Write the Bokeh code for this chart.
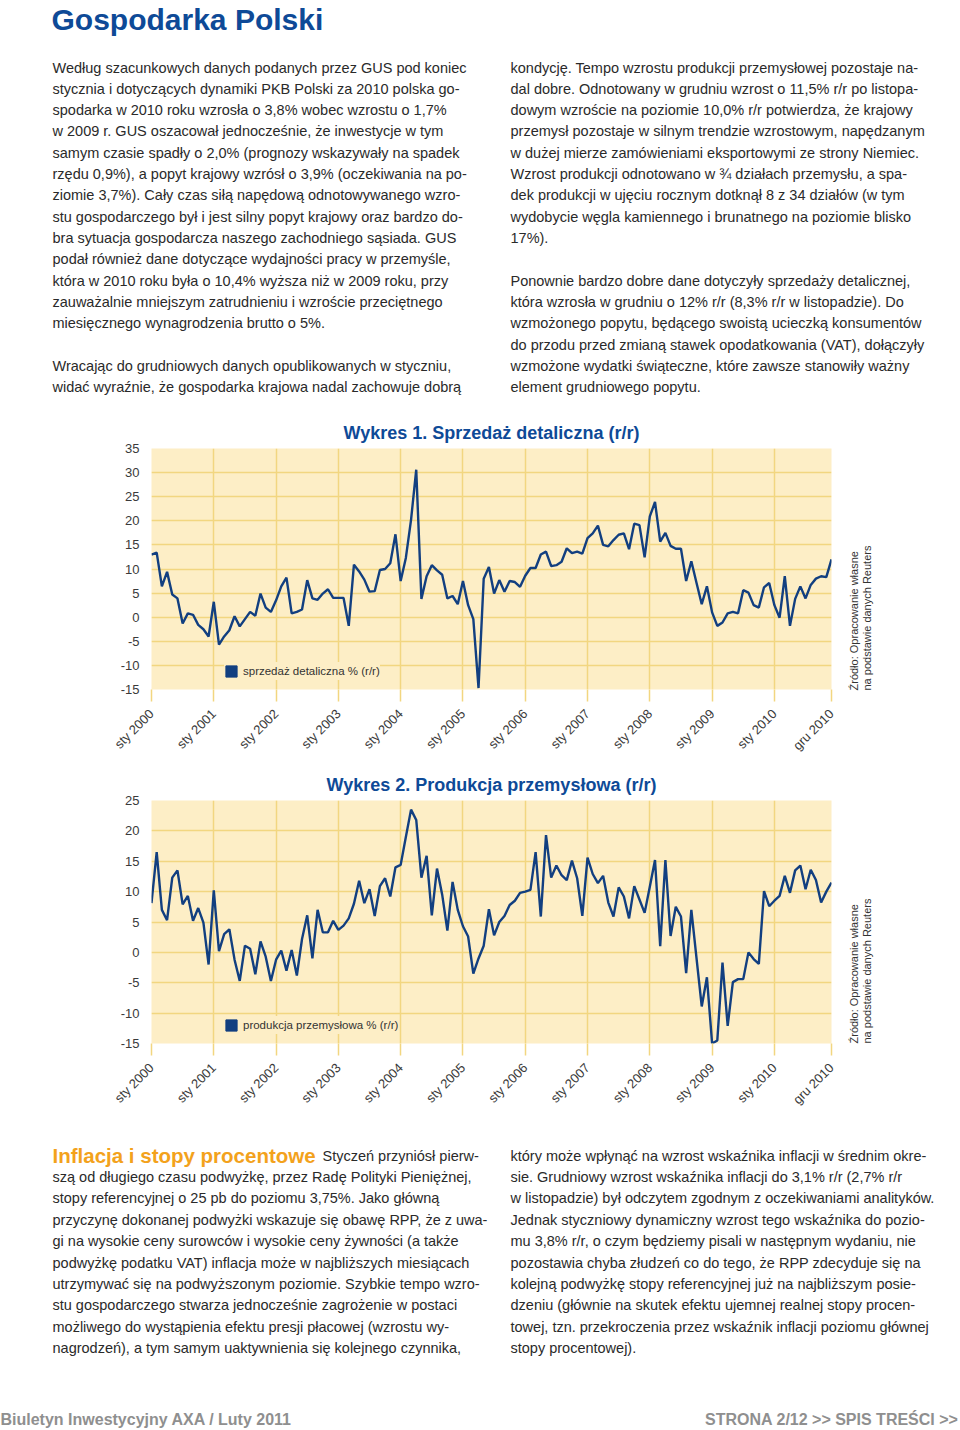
import math
from bokeh.plotting import figure
from bokeh.models import Range1d, FixedTicker, Legend, LegendItem
from bokeh.layouts import column, row
from bokeh.core.properties import value
from bokeh.embed import file_html
from bokeh.resources import INLINE

# ---------------- data ----------------
tick_labels = ["sty 2000", "sty 2001", "sty 2002", "sty 2003", "sty 2004", "sty 2005",
               "sty 2006", "sty 2007", "sty 2008", "sty 2009", "sty 2010", "gru 2010"]

# Wykres 1: sprzedaż detaliczna % r/r, sty 2000 - gru 2010 (monthly)
retail = [
    13.0, 13.4, 6.4, 9.4, 4.7, 3.9, -1.3, 0.8, 0.5, -1.6, -2.5, -4.0,
    3.2, -5.7, -4.0, -2.7, 0.2, -1.9, -0.4, 1.1, 0.3, 4.9, 2.0, 1.1,
    3.5, 6.4, 8.2, 0.8, 1.1, 1.6, 7.7, 3.9, 3.6, 4.9, 5.8, 4.0,
    4.0, 4.0, -1.8, 10.9, 9.5, 7.8, 5.3, 5.4, 9.8, 10.0, 11.2, 17.2,
    7.5, 12.3, 20.2, 30.6, 3.8, 8.5, 10.8, 9.7, 8.8, 3.9, 4.4, 2.7,
    7.5, 2.5, -0.4, -14.7, 8.0, 10.4, 4.9, 7.7, 5.3, 7.5, 7.3, 6.3,
    8.6, 10.2, 10.2, 13.0, 13.6, 10.6, 10.8, 11.5, 14.3, 13.3, 13.6, 13.2,
    16.4, 17.4, 19.0, 15.0, 14.7, 16.0, 17.1, 17.4, 14.1, 19.4, 19.1, 12.4,
    20.9, 23.9, 15.7, 17.5, 14.8, 14.2, 14.2, 7.5, 11.6, 7.1, 2.7, 6.4,
    1.0, -1.8, -1.1, 0.8, 1.1, 0.8, 5.6, 5.1, 2.5, 2.0, 6.2, 7.1,
    2.5, -0.1, 8.5, -1.8, 3.8, 6.4, 3.9, 6.7, 8.0, 8.5, 8.3, 12.0,
]

# Wykres 2: produkcja przemysłowa % r/r, sty 2000 - gru 2010 (monthly)
production = [
    8.1, 16.5, 7.0, 5.3, 12.3, 13.5, 7.9, 9.3, 5.2, 7.3, 4.9, -2.0,
    10.2, 0.2, 3.0, 3.8, -1.2, -4.7, 1.1, 0.6, -3.6, 1.8, -0.7, -4.7,
    -1.2, 0.3, -3.0, 0.4, -3.8, 2.2, 6.1, -1.0, 7.0, 3.3, 3.3, 5.2,
    3.7, 4.4, 5.6, 8.0, 11.8, 8.1, 10.4, 6.0, 10.9, 12.2, 9.2, 14.0,
    14.4, 19.0, 23.5, 21.8, 12.3, 15.9, 6.1, 13.8, 9.5, 3.6, 11.6, 7.0,
    4.3, 2.6, -3.5, -1.0, 1.1, 7.1, 2.8, 5.0, 6.0, 7.8, 8.5, 9.8,
    10.0, 10.3, 16.5, 5.9, 19.3, 12.3, 14.3, 12.7, 11.9, 15.1, 12.2, 6.0,
    15.6, 12.9, 11.4, 12.6, 8.2, 5.9, 10.7, 9.2, 5.6, 10.9, 8.7, 6.5,
    10.8, 15.2, 1.0, 15.2, 2.7, 7.5, 5.9, -3.4, 7.0, -1.0, -8.9, -4.1,
    -15.0, -14.5, -1.7, -12.1, -4.9, -4.4, -4.4, 0.0, -1.1, -1.9, 10.1, 7.6,
    8.5, 9.3, 12.6, 9.8, 13.5, 14.3, 10.4, 13.6, 11.9, 8.2, 10.0, 11.5,
]

# ---------------- texts ----------------
page_title = "Gospodarka Polski"
top_left = [
    "Według szacunkowych danych podanych przez GUS pod koniec",
    "stycznia i dotyczących dynamiki PKB Polski za 2010 polska go-",
    "spodarka w 2010 roku wzrosła o 3,8% wobec wzrostu o 1,7%",
    "w 2009 r. GUS oszacował jednocześnie, że inwestycje w tym",
    "samym czasie spadły o 2,0% (prognozy wskazywały na spadek",
    "rzędu 0,9%), a popyt krajowy wzrósł o 3,9% (oczekiwania na po-",
    "ziomie 3,7%). Cały czas siłą napędową odnotowywanego wzro-",
    "stu gospodarczego był i jest silny popyt krajowy oraz bardzo do-",
    "bra sytuacja gospodarcza naszego zachodniego sąsiada. GUS",
    "podał również dane dotyczące wydajności pracy w przemyśle,",
    "która w 2010 roku była o 10,4% wyższa niż w 2009 roku, przy",
    "zauważalnie mniejszym zatrudnieniu i wzroście przeciętnego",
    "miesięcznego wynagrodzenia brutto o 5%.",
    "",
    "Wracając do grudniowych danych opublikowanych w styczniu,",
    "widać wyraźnie, że gospodarka krajowa nadal zachowuje dobrą",
]
top_right = [
    "kondycję. Tempo wzrostu produkcji przemysłowej pozostaje na-",
    "dal dobre. Odnotowany w grudniu wzrost o 11,5% r/r po listopa-",
    "dowym wzroście na poziomie 10,0% r/r potwierdza, że krajowy",
    "przemysł pozostaje w silnym trendzie wzrostowym, napędzanym",
    "w dużej mierze zamówieniami eksportowymi ze strony Niemiec.",
    "Wzrost produkcji odnotowano w ¾ działach przemysłu, a spa-",
    "dek produkcji w ujęciu rocznym dotknął 8 z 34 działów (w tym",
    "wydobycie węgla kamiennego i brunatnego na poziomie blisko",
    "17%).",
    "",
    "Ponownie bardzo dobre dane dotyczyły sprzedaży detalicznej,",
    "która wzrosła w grudniu o 12% r/r (8,3% r/r w listopadzie). Do",
    "wzmożonego popytu, będącego swoistą ucieczką konsumentów",
    "do przodu przed zmianą stawek opodatkowania (VAT), dołączyły",
    "wzmożone wydatki świąteczne, które zawsze stanowiły ważny",
    "element grudniowego popytu.",
]
bottom_head = "Inflacja i stopy procentowe"
bottom_left = [
    "Styczeń przyniósł pierw-",
    "szą od długiego czasu podwyżkę, przez Radę Polityki Pieniężnej,",
    "stopy referencyjnej o 25 pb do poziomu 3,75%. Jako główną",
    "przyczynę dokonanej podwyżki wskazuje się obawę RPP, że z uwa-",
    "gi na wysokie ceny surowców i wysokie ceny żywności (a także",
    "podwyżkę podatku VAT) inflacja może w najbliższych miesiącach",
    "utrzymywać się na podwyższonym poziomie. Szybkie tempo wzro-",
    "stu gospodarczego stwarza jednocześnie zagrożenie w postaci",
    "możliwego do wystąpienia efektu presji płacowej (wzrostu wy-",
    "nagrodzeń), a tym samym uaktywnienia się kolejnego czynnika,",
]
bottom_right = [
    "który może wpłynąć na wzrost wskaźnika inflacji w średnim okre-",
    "sie. Grudniowy wzrost wskaźnika inflacji do 3,1% r/r (2,7% r/r",
    "w listopadzie) był odczytem zgodnym z oczekiwaniami analityków.",
    "Jednak styczniowy dynamiczny wzrost tego wskaźnika do pozio-",
    "mu 3,8% r/r, o czym będziemy pisali w następnym wydaniu, nie",
    "pozostawia chyba złudzeń co do tego, że RPP zdecyduje się na",
    "kolejną podwyżkę stopy referencyjnej już na najbliższym posie-",
    "dzeniu (głównie na skutek efektu ujemnej realnej stopy procen-",
    "towej, tzn. przekroczenia przez wskaźnik inflacji poziomu głównej",
    "stopy procentowej).",
]
footer_left = "Biuletyn Inwestycyjny AXA / Luty 2011"
footer_right = "STRONA 2/12 >> SPIS TREŚCI >>"
source_lines = ["Źródło: Opracowanie własne", "na podstawie danych Reuters"]

# ---------------- styles ----------------
PW = 960
FONT = "Liberation Sans"
TEXT_C = "#2a2a2a"
BLUE_T = "#0e4a97"
LINE_C = "#123f80"
BG_C = "#fdeec6"
GRID_C = "#f2d680"
ORANGE = "#f3a21c"
GRAY = "#8f8f8f"
BODY_SIZE = "14.5px"


def blank(width, height, xr, yr):
    f = figure(width=width, height=height, x_range=xr, y_range=yr,
               output_backend="svg", toolbar_location=None, min_border=0,
               x_axis_location=None, y_axis_location=None, frame_align=False)
    f.grid.visible = False
    f.outline_line_color = None
    f.background_fill_color = "white"
    f.border_fill_color = "white"
    return f


def text_panel(top, bottom):
    return blank(PW, bottom - top, Range1d(0, PW), Range1d(bottom, top))


def body(f, x, y0, step, lines):
    xs, ys, ts = [], [], []
    for i, t in enumerate(lines):
        if t:
            xs.append(x)
            ys.append(y0 + i * step)
            ts.append(t)
    f.text(x=xs, y=ys, text=ts, text_font=value(FONT), text_font_size=BODY_SIZE,
           text_color=TEXT_C, text_baseline="middle", text_align="left")


# top text
top = text_panel(0, 410)
top.text(x=[51], y=[19], text=[page_title], text_font=value(FONT),
         text_font_size="30px", text_font_style="bold", text_color=BLUE_T,
         text_baseline="middle")
body(top, 52, 67, 21.33, top_left)
body(top, 510, 67, 21.33, top_right)

CH_W = 840          # chart figure width (frame 151..831)
FR_L, FR_R = 151, 831


def chart(vals, title, leg_text, ymin, ymax, page_top, top_b, frame_h, bot_b):
    h = top_b + frame_h + bot_b
    p = figure(width=CH_W, height=h, x_range=Range1d(0, len(vals) - 1),
               y_range=Range1d(ymin, ymax), output_backend="svg",
               toolbar_location=None, min_border_left=FR_L,
               min_border_right=CH_W - FR_R, min_border_top=top_b,
               min_border_bottom=bot_b, frame_align=False)
    p.background_fill_color = BG_C
    p.border_fill_color = "white"
    p.outline_line_color = None
    ticks = [12 * i for i in range(len(tick_labels) - 1)] + [len(vals) - 1]
    yt = list(range(ymin, ymax + 1, 5))
    p.xaxis.ticker = FixedTicker(ticks=ticks)
    p.xaxis.major_label_overrides = {t: l for t, l in zip(ticks, tick_labels)}
    p.xaxis.major_label_orientation = math.pi / 4
    p.xaxis.axis_line_color = None
    p.xaxis.major_tick_out = 12
    p.xaxis.major_tick_in = 0
    p.xaxis.major_tick_line_color = GRID_C
    p.xaxis.major_tick_line_width = 1.5
    p.xaxis.minor_tick_line_color = None
    p.xaxis.major_label_standoff = 10
    p.yaxis.ticker = FixedTicker(ticks=yt)
    p.yaxis.major_label_overrides = {v: str(v) for v in yt}
    p.yaxis.axis_line_color = None
    p.yaxis.major_tick_line_color = None
    p.yaxis.minor_tick_line_color = None
    p.yaxis.major_label_standoff = 6
    for ax in (p.xaxis, p.yaxis):
        ax.major_label_text_font = FONT
        ax.major_label_text_font_size = "13px"
        ax.major_label_text_color = "#3a3a3a"
    p.xgrid.ticker = FixedTicker(ticks=ticks)
    p.ygrid.ticker = FixedTicker(ticks=yt)
    p.grid.grid_line_color = GRID_C
    p.grid.grid_line_width = 1.5
    p.grid.grid_line_alpha = 1.0

    p.line(list(range(len(vals))), vals, line_color=LINE_C, line_width=2.4)

    nan = float("nan")
    sq = p.quad(left=[nan], right=[nan], top=[nan], bottom=[nan],
                fill_color=LINE_C, line_color=LINE_C)
    leg = Legend(items=[LegendItem(label=leg_text, renderers=[sq])],
                 location=(73, 9), background_fill_color=BG_C,
                 background_fill_alpha=1.0, border_line_color=None,
                 glyph_width=14, glyph_height=14, label_standoff=5,
                 label_text_font=FONT, label_text_font_size="11.5px",
                 label_text_color="#333333", padding=6, margin=0, spacing=0,
                 label_height=18)
    p.add_layout(leg, "center")

    p.title.text = title
    p.title.align = "center"
    p.title.offset = 3
    p.title.standoff = 11
    p.title.text_font = FONT
    p.title.text_font_size = "18px"
    p.title.text_font_style = "bold"
    p.title.text_color = BLUE_T

    # source note panel to the right (page coordinates, y negated)
    s = blank(PW - CH_W, h, Range1d(CH_W, PW), Range1d(-(page_top + h), -page_top))
    fb = page_top + top_b + frame_h
    s.text(x=[853, 866], y=[-(fb - 1), -(fb - 1)], text=source_lines,
           angle=math.pi / 2, text_font=value(FONT), text_font_size="11px",
           text_color="#333333", text_align="left", text_baseline="middle")
    return row(p, s, spacing=0)


c1 = chart(retail, "Wykres 1. Sprzedaż detaliczna (r/r)",
           "sprzedaż detaliczna % (r/r)", -15, 35, 410, 38, 243, 70)
c2 = chart(production, "Wykres 2. Produkcja przemysłowa (r/r)",
           "produkcja przemysłowa % (r/r)", -15, 25, 761, 39, 244, 71)

# bottom text
bot = text_panel(1115, 1429)
bot.text(x=[52], y=[1155], text=[bottom_head], text_font=value(FONT),
         text_font_size="20.5px", text_font_style="bold", text_color=ORANGE,
         text_baseline="middle")
bot.text(x=[322], y=[1155], text=[bottom_left[0]], text_font=value(FONT),
         text_font_size=BODY_SIZE, text_color=TEXT_C, text_baseline="middle")
body(bot, 52, 1155, 21.4, [""] + bottom_left[1:])
body(bot, 510, 1155, 21.4, bottom_right)
bot.text(x=[0], y=[1419], text=[footer_left], text_font=value(FONT),
         text_font_size="16px", text_font_style="bold", text_color=GRAY,
         text_baseline="middle")
bot.text(x=[958], y=[1419], text=[footer_right], text_font=value(FONT),
         text_font_size="16px", text_font_style="bold", text_color=GRAY,
         text_baseline="middle", text_align="right")

p = column(top, c1, c2, bot, spacing=0)
open("out.html", "w").write(file_html(p, INLINE))
